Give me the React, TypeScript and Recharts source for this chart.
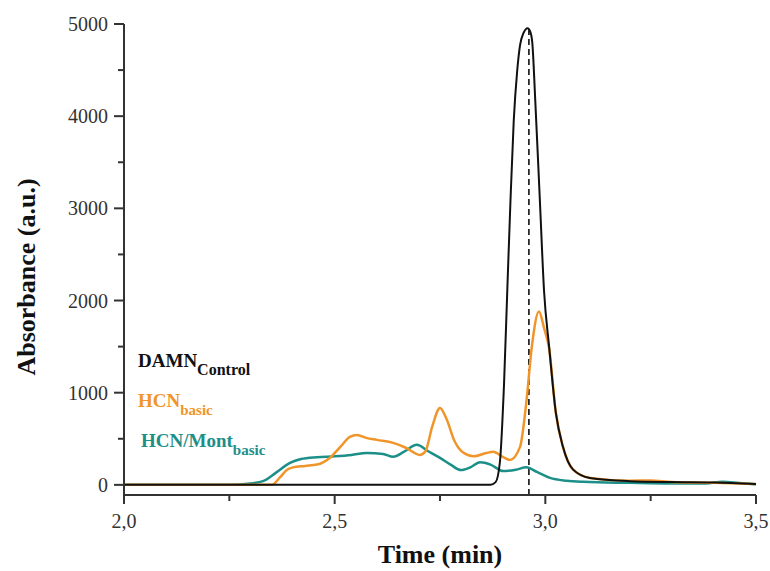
import { LineChart, Line, XAxis, YAxis, ReferenceLine } from "recharts";

// Chromatogram traces (time in min, absorbance in a.u.)
const damnTime = [2.0, 2.5, 2.8, 2.87, 2.882, 2.892, 2.902, 2.91, 2.917, 2.925, 2.933, 2.94, 2.948, 2.958, 2.964, 2.969, 2.976, 2.987, 2.997, 3.009, 3.025, 3.042, 3.066, 3.106, 3.2, 3.3, 3.4, 3.5];
const damnAbs = [0, 0, 0, 2, 30, 240, 1100, 2150, 3050, 3950, 4480, 4770, 4900, 4955, 4920, 4800, 4180, 3090, 2100, 1500, 780, 410, 165, 75, 40, 30, 25, 10];

const hcnTime = [2.0, 2.3, 2.351, 2.37, 2.387, 2.401, 2.43, 2.458, 2.489, 2.515, 2.536, 2.553, 2.575, 2.6, 2.639, 2.67, 2.702, 2.715, 2.732, 2.75, 2.765, 2.785, 2.805, 2.83, 2.86, 2.876, 2.9, 2.916, 2.94, 2.955, 2.968, 2.985, 2.997, 3.009, 3.025, 3.042, 3.066, 3.106, 3.2, 3.25, 3.3, 3.4, 3.5];
const hcnAbs = [0, 0, 0, 80, 163, 190, 205, 220, 295, 420, 521, 542, 510, 488, 455, 400, 325, 360, 640, 835, 720, 470, 350, 310, 345, 358, 300, 271, 412, 900, 1500, 1880, 1700, 1480, 780, 410, 165, 75, 45, 48, 30, 22, 10];

const montTime = [2.0, 2.25, 2.3, 2.33, 2.36, 2.394, 2.42, 2.458, 2.5, 2.54, 2.576, 2.615, 2.639, 2.665, 2.695, 2.72, 2.75, 2.775, 2.8, 2.822, 2.845, 2.87, 2.9, 2.93, 2.955, 2.98, 3.011, 3.05, 3.09, 3.2, 3.3, 3.38, 3.42, 3.46, 3.5];
const montAbs = [0, 0, 15, 40, 130, 239, 280, 300, 310, 325, 347, 336, 305, 360, 434, 370, 293, 220, 160, 190, 245, 220, 150, 165, 190, 140, 76, 45, 33, 22, 15, 15, 35, 20, 5];

const xTicks = [2.0, 2.25, 2.5, 2.75, 3.0, 3.25, 3.5];
const xLabels = ["2,0", "2,5", "3,0", "3,5"];
const yTicks = [0, 500, 1000, 1500, 2000, 2500, 3000, 3500, 4000, 4500, 5000];
const peakTime = 2.961;

const toPoints = (t: number[], v: number[]) => t.map((x, i) => ({ t: x, v: v[i] }));

const serif = "'Liberation Serif', 'Times New Roman', serif";
const axisColor = "#333";

const XTick = ({ x, y, payload }: any) => {
  const major = Math.abs(payload.value * 2 - Math.round(payload.value * 2)) < 1e-6;
  const label = major ? payload.value.toFixed(1).replace(".", ",") : "";
  return (
    <g>
      <line x1={x} x2={x} y1={y} y2={y + (major ? 9 : 6)} stroke={axisColor} strokeWidth={2} />
      {major && xLabels.includes(label) && (
        <text x={x} y={y + 33} textAnchor="middle" fontFamily={serif} fontSize={20} fill={axisColor}>
          {label}
        </text>
      )}
    </g>
  );
};

const YTick = ({ x, y, payload }: any) => {
  const major = payload.value % 1000 === 0;
  return (
    <g>
      <line x1={x - (major ? 10 : 6)} x2={x} y1={y} y2={y} stroke={axisColor} strokeWidth={2} />
      {major && (
        <text x={x - 16} y={y + 7} textAnchor="end" fontFamily={serif} fontSize={20} fill={axisColor}>
          {payload.value}
        </text>
      )}
    </g>
  );
};

export default function App() {
  return (
    <div style={{ position: "relative", width: 770, height: 571, background: "#fff" }}>
      <style>{`body{margin:0}`}</style>
      <LineChart width={770} height={571} margin={{ top: 24, right: 14, bottom: 36, left: 0 }}>
        <XAxis
          type="number"
          dataKey="t"
          domain={[2, 3.5]}
          ticks={xTicks}
          allowDataOverflow
          height={40}
          tickLine={false}
          tickSize={0}
          tickMargin={0}
          tick={<XTick />}
          stroke={axisColor}
          strokeWidth={2}
        />
        <YAxis
          type="number"
          domain={[-110, 5000]}
          ticks={yTicks}
          allowDataOverflow
          width={124}
          tickLine={false}
          tickSize={0}
          tickMargin={0}
          tick={<YTick />}
          stroke={axisColor}
          strokeWidth={2}
        />
        <ReferenceLine
          segment={[{ x: peakTime, y: -110 }, { x: peakTime, y: 4940 }]}
          stroke="#111"
          strokeWidth={1.6}
          strokeDasharray="6 4"
        />
        <Line data={toPoints(montTime, montAbs)} dataKey="v" type="monotone" stroke="#1c8f88" strokeWidth={2.5} dot={false} isAnimationActive={false} />
        <Line data={toPoints(hcnTime, hcnAbs)} dataKey="v" type="monotone" stroke="#f0952a" strokeWidth={2.5} dot={false} isAnimationActive={false} />
        <Line data={toPoints(damnTime, damnAbs)} dataKey="v" type="monotone" stroke="#111" strokeWidth={2} dot={false} isAnimationActive={false} />
      </LineChart>
      <svg width={770} height={571} style={{ position: "absolute", left: 0, top: 0, pointerEvents: "none" }}>
        <g fontFamily={serif} fontWeight="bold">
          <text x={138} y={367} fontSize={19} fill="#111">
            DAMN<tspan fontSize={16} dy={8}>Control</tspan>
          </text>
          <text x={138} y={407} fontSize={19} fill="#f0952a">
            HCN<tspan fontSize={15} dy={8}>basic</tspan>
          </text>
          <text x={141} y={447} fontSize={19} fill="#1c8f88">
            HCN/Mont<tspan fontSize={15} dy={8}>basic</tspan>
          </text>
          <text x={440} y={563} textAnchor="middle" fontSize={26} fill="#111">
            Time (min)
          </text>
          <text x={35} y={277} textAnchor="middle" fontSize={26} fill="#111" transform="rotate(-90 35 277)">
            Absorbance (a.u.)
          </text>
        </g>
      </svg>
    </div>
  );
}
